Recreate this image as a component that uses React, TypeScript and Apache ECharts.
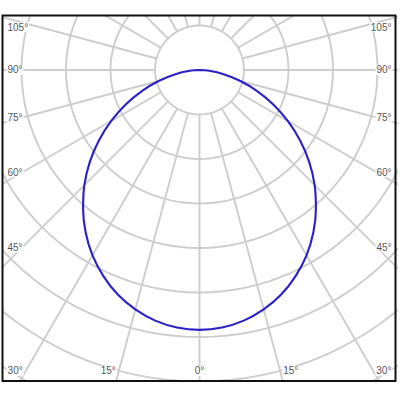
import React, { useEffect, useRef } from 'react'
import * as echarts from 'echarts'

// luminous intensity (cd/klm) by angle from nadir, C0-C180 plane (symmetric)
const gammaAngles = [0, 5, 10, 15, 20, 25, 30, 35, 40, 45, 50, 55, 60, 65, 70, 75, 80, 85, 90]
const intensity = [584, 581, 572, 557, 537, 511, 481, 446, 407, 366, 322, 276, 229, 183, 137, 94, 55, 22, 0]

// polar grid: rings every 100 cd/klm, spokes every 15 degrees
const ringValues = [100, 200, 300, 400, 500, 600, 700, 800, 900]
const spokeAngles = [0, 15, 30, 45, 60, 75, 90, 105, 120, 135, 150, 165, 180, 195, 210, 225, 240, 255, 270, 285, 300, 315, 330, 345]
const labelAngles = [0, 15, 30, 45, 60, 75, 90, 105]
const tickLabels = ['0°', '15°', '30°', '45°', '60°', '75°', '90°', '105°']

// visible window (cd/klm), polar centre at 0,0
const X_MIN = -441.6
const X_MAX = 441.6
const Y_MIN = -698.9
const Y_MAX = 121.3
const PX = 0.445 // pixels per unit

const GRID_COLOR = '#cdcdcd'
const CURVE_COLOR = '#2b20c4'

const rad = (d: number) => (d * Math.PI) / 180

const PolarDiagram: React.FC = () => {
    const chartRef = useRef<HTMLDivElement | null>(null)

    useEffect(() => {
        if (!chartRef.current) return
        const chart = echarts.init(chartRef.current, undefined, { renderer: 'svg' })

        const gridSeries: any[] = []
        ringValues.forEach((r) => {
            const pts: number[][] = []
            for (let a = 0; a <= 360; a += 3) {
                pts.push([r * Math.sin(rad(a)), -r * Math.cos(rad(a))])
            }
            gridSeries.push({
                type: 'line',
                data: pts,
                showSymbol: false,
                symbol: 'none',
                silent: true,
                z: 1,
                lineStyle: { color: GRID_COLOR, width: 1.9 },
            })
        })
        spokeAngles.forEach((a) => {
            const r0 = ringValues[0]
            const r1 = ringValues[ringValues.length - 1]
            gridSeries.push({
                type: 'line',
                data: [
                    [r0 * Math.sin(rad(a)), -r0 * Math.cos(rad(a))],
                    [r1 * Math.sin(rad(a)), -r1 * Math.cos(rad(a))],
                ],
                showSymbol: false,
                symbol: 'none',
                silent: true,
                z: 1,
                lineStyle: { color: GRID_COLOR, width: 1.9 },
            })
        })

        // full curve, mirrored from -90 to 90
        const curve: number[][] = []
        for (let i = gammaAngles.length - 1; i >= 0; i--) {
            const a = -gammaAngles[i]
            curve.push([intensity[i] * Math.sin(rad(a)), -intensity[i] * Math.cos(rad(a))])
        }
        for (let i = 1; i < gammaAngles.length; i++) {
            const a = gammaAngles[i]
            curve.push([intensity[i] * Math.sin(rad(a)), -intensity[i] * Math.cos(rad(a))])
        }

        // angle labels where the spokes meet the frame
        const sideX = X_MAX - 19 / PX
        const bottomY = Y_MIN + 10 / PX
        const labelData: any[] = []
        labelAngles.forEach((a, i) => {
            const sides = a === 0 ? [1] : [-1, 1]
            sides.forEach((s) => {
                const sa = Math.sin(rad(a))
                const ca = Math.cos(rad(a))
                const tSide = sa > 0 ? sideX / sa : Infinity
                const tBottom = ca > 0 ? -bottomY / ca : Infinity
                if (tBottom <= tSide) {
                    const x = s * (-bottomY * Math.tan(rad(a)) + (a === 0 ? 0 : 2 / PX))
                    labelData.push({
                        name: tickLabels[i],
                        value: [x, bottomY],
                        label: { align: a === 0 ? 'center' : s < 0 ? 'right' : 'left' },
                    })
                } else {
                    const y = Math.min((-sideX * ca) / sa, Y_MAX - 11 / PX)
                    labelData.push({
                        name: tickLabels[i],
                        value: [s * (X_MAX - 3.5 / PX), y],
                        label: { align: s < 0 ? 'left' : 'right' },
                    })
                }
            })
        })

        const options: any = {
            animation: false,
            grid: { left: 3, right: 4, top: 16, bottom: 19 },
            xAxis: { type: 'value', min: X_MIN, max: X_MAX, show: false },
            yAxis: { type: 'value', min: Y_MIN, max: Y_MAX, show: false },
            graphic: [
                {
                    type: 'rect',
                    shape: { x: 2.5, y: 15.5, width: 393, height: 365.5 },
                    style: { fill: 'none', stroke: '#111', lineWidth: 2 },
                    z: 100,
                    silent: true,
                },
            ],
            series: [
                ...gridSeries,
                {
                    type: 'line',
                    name: 'C0-C180',
                    data: curve,
                    smooth: 0.35,
                    showSymbol: false,
                    symbol: 'none',
                    z: 3,
                    lineStyle: { color: CURVE_COLOR, width: 2.1 },
                },
                {
                    type: 'scatter',
                    data: labelData,
                    symbolSize: 0,
                    silent: true,
                    z: 4,
                    label: {
                        show: true,
                        position: 'inside',
                        formatter: '{b}',
                        verticalAlign: 'middle',
                        color: '#222',
                        fontSize: 10,
                        fontFamily: '"Liberation Sans Narrow", "Liberation Sans", sans-serif',
                        backgroundColor: '#fff',
                        padding: [0, 1],
                    },
                },
            ],
        }

        chart.setOption(options)

        return () => {
            chart.dispose()
        }
    }, [])

    return <div ref={chartRef} style={{ position: 'absolute', left: 0, top: 0, width: '400px', height: '400px' }} />
}

export default function App() {
    return <PolarDiagram />
}
